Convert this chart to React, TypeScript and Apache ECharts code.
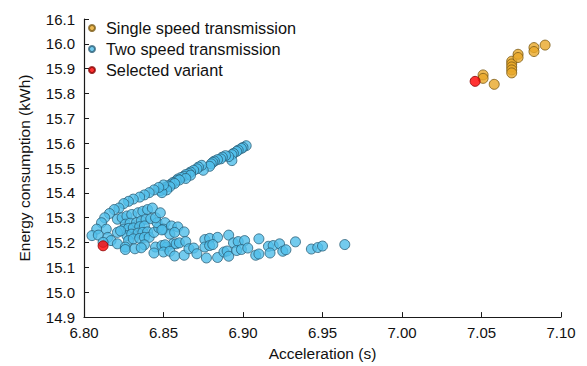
import React, { useEffect, useRef } from "react";
import * as echarts from "echarts";

const singleSpeed: [number, number][] = [
  [7.051, 15.875], [7.051, 15.861], [7.058, 15.837],
  [7.069, 15.930], [7.069, 15.919], [7.069, 15.907], [7.069, 15.895], [7.069, 15.883],
  [7.073, 15.958], [7.073, 15.945],
  [7.083, 15.985], [7.083, 15.969],
  [7.090, 15.995],
];

const twoSpeed: [number, number][] = [
  // upper band
  [6.902, 15.590], [6.900, 15.583], [6.899, 15.579], [6.897, 15.572], [6.896, 15.567],
  [6.894, 15.559], [6.893, 15.554], [6.893, 15.530], [6.891, 15.546], [6.889, 15.550],
  [6.887, 15.544], [6.886, 15.537], [6.884, 15.534], [6.882, 15.528], [6.881, 15.523],
  [6.880, 15.517], [6.879, 15.507], [6.875, 15.491], [6.874, 15.511], [6.872, 15.504],
  [6.871, 15.497], [6.869, 15.491], [6.867, 15.484], [6.866, 15.478], [6.864, 15.474],
  [6.863, 15.467], [6.861, 15.462], [6.859, 15.456], [6.858, 15.449], [6.856, 15.442],
  [6.855, 15.436], [6.853, 15.429], [6.851, 15.422], [6.850, 15.416], [6.848, 15.409],
  [6.867, 15.471], [6.864, 15.458], [6.860, 15.452], [6.857, 15.438], [6.854, 15.425],
  [6.852, 15.412], [6.849, 15.401],
  [6.850, 15.432], [6.847, 15.422], [6.844, 15.412], [6.841, 15.401], [6.838, 15.392],
  [6.835, 15.383], [6.831, 15.375], [6.828, 15.366], [6.825, 15.357], [6.822, 15.339],
  [6.819, 15.333], [6.816, 15.317], [6.813, 15.300], [6.811, 15.280], [6.808, 15.254],
  [6.805, 15.228], [6.809, 15.230], [6.814, 15.254], [6.815, 15.221], [6.817, 15.208],
  [6.821, 15.195], [6.812, 15.201],
  // fan
  [6.821, 15.294], [6.824, 15.300], [6.827, 15.307], [6.830, 15.313], [6.834, 15.320],
  [6.837, 15.326], [6.840, 15.333], [6.843, 15.339],
  [6.826, 15.274], [6.829, 15.278], [6.833, 15.280], [6.836, 15.287], [6.839, 15.294],
  [6.842, 15.296],
  [6.825, 15.254], [6.828, 15.257], [6.831, 15.259], [6.835, 15.264], [6.838, 15.267],
  [6.827, 15.228], [6.830, 15.234], [6.834, 15.238], [6.837, 15.241], [6.840, 15.243],
  [6.828, 15.208], [6.831, 15.215], [6.835, 15.217], [6.838, 15.221], [6.841, 15.221],
  [6.844, 15.241], [6.847, 15.260], [6.846, 15.280], [6.845, 15.300], [6.848, 15.320],
  [6.851, 15.280], [6.850, 15.254], [6.855, 15.267], [6.854, 15.234],
  [6.826, 15.182], [6.838, 15.191], [6.845, 15.182], [6.849, 15.188], [6.852, 15.182],
  [6.856, 15.195], [6.859, 15.263], [6.863, 15.243], [6.857, 15.241], [6.849, 15.251],
  [6.821, 15.241], [6.823, 15.247],
  // lower row
  [6.826, 15.172], [6.832, 15.175], [6.836, 15.179], [6.844, 15.158], [6.851, 15.191],
  [6.850, 15.162], [6.854, 15.165], [6.857, 15.146], [6.858, 15.195], [6.860, 15.199],
  [6.864, 15.204], [6.863, 15.149], [6.866, 15.175], [6.869, 15.178], [6.871, 15.155],
  [6.876, 15.212], [6.879, 15.217], [6.884, 15.221], [6.876, 15.182], [6.879, 15.188],
  [6.881, 15.192], [6.877, 15.138], [6.884, 15.140], [6.888, 15.162], [6.890, 15.166],
  [6.891, 15.145], [6.891, 15.230], [6.894, 15.199], [6.897, 15.204], [6.901, 15.208],
  [6.896, 15.168], [6.899, 15.172], [6.903, 15.178], [6.908, 15.149], [6.910, 15.154],
  [6.910, 15.215], [6.916, 15.185], [6.919, 15.188], [6.923, 15.195], [6.917, 15.158],
  [6.925, 15.165], [6.927, 15.171], [6.933, 15.203], [6.943, 15.174], [6.947, 15.180],
  [6.950, 15.186], [6.964, 15.192],
];

const selected: [number, number][] = [
  [6.812, 15.187],
  [7.046, 15.849],
];

const seriesNames = ["Single speed transmission", "Two speed transmission", "Selected variant"];
const xTicks = { min: 6.8, max: 7.1, interval: 0.05 };
const yTicks = { min: 14.9, max: 16.1, interval: 0.1 };

const FONT = "'Liberation Sans', Arial, sans-serif";

export default function App() {
  const ref = useRef<HTMLDivElement>(null);
  useEffect(() => {
    if (!ref.current) return;
    const chart = echarts.init(ref.current, undefined, { renderer: "svg" });
    const axisCommon = {
      axisLine: { show: true, lineStyle: { color: "#1a1a1a", width: 1.2 } },
      axisTick: { show: true, inside: true, length: 5, lineStyle: { color: "#1a1a1a" } },
      splitLine: { show: false },
      nameTextStyle: { fontFamily: FONT, fontSize: 15.5, color: "#111" },
    };
    chart.setOption({
      animation: false,
      backgroundColor: "#fff",
      textStyle: { fontFamily: FONT },
      grid: { left: 84, right: 26, top: 19, bottom: 43, containLabel: false },
      legend: {
        orient: "vertical",
        left: 88,
        top: 20,
        padding: 0,
        itemWidth: 18,
        itemHeight: 6,
        itemGap: 5,
        icon: "circle",
        data: seriesNames,
        textStyle: { fontFamily: FONT, fontSize: 16.3, color: "#111", lineHeight: 16 },
      },
      xAxis: {
        type: "value",
        min: xTicks.min,
        max: xTicks.max,
        interval: xTicks.interval,
        name: "Acceleration (s)",
        nameLocation: "middle",
        nameGap: 26,
        ...axisCommon,
        axisLabel: {
          fontFamily: FONT,
          fontSize: 15,
          color: "#111",
          margin: 8,
          formatter: (v: number) => v.toFixed(2),
        },
      },
      yAxis: {
        type: "value",
        min: yTicks.min,
        max: yTicks.max,
        interval: yTicks.interval,
        name: "Energy consumption (kWh)",
        nameLocation: "middle",
        nameGap: 52,
        ...axisCommon,
        axisLabel: {
          fontFamily: FONT,
          fontSize: 15,
          color: "#111",
          margin: 9,
          formatter: (v: number) => v.toFixed(1),
        },
      },
      series: [
        {
          name: seriesNames[0],
          type: "scatter",
          data: singleSpeed,
          symbolSize: 10,
          itemStyle: { color: "#E9A828", borderColor: "#7a5a14", borderWidth: 1 },
        },
        {
          name: seriesNames[1],
          type: "scatter",
          data: twoSpeed,
          symbolSize: 10,
          itemStyle: { color: "#50BEEA", borderColor: "#2a5f78", borderWidth: 1 },
        },
        {
          name: seriesNames[2],
          type: "scatter",
          data: selected,
          symbolSize: 10,
          z: 5,
          itemStyle: { color: "#FF0000", borderColor: "#8a0000", borderWidth: 1 },
        },
      ],
    });
    return () => chart.dispose();
  }, []);
  return (
    <div
      ref={ref}
      style={{ position: "fixed", left: 0, top: 0, width: 587, height: 366 }}
    />
  );
}
